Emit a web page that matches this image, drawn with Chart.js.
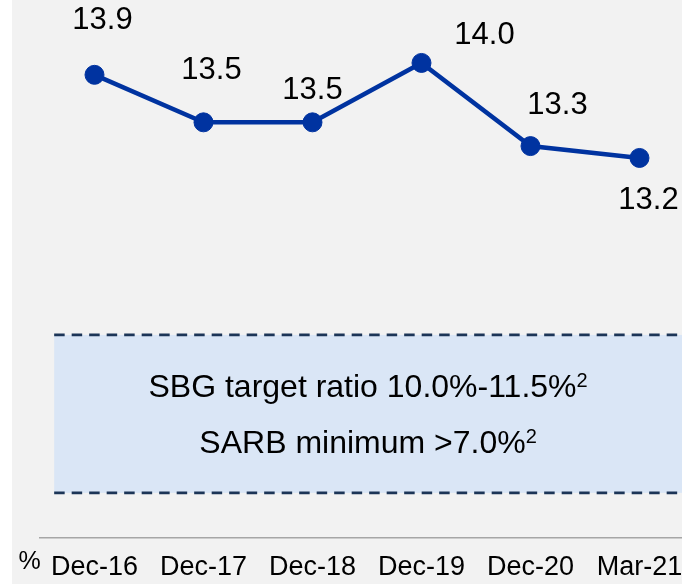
<!DOCTYPE html>
<html>
<head>
<meta charset="utf-8">
<script src="https://cdn.jsdelivr.net/npm/chart.js@4/dist/chart.umd.min.js"></script>
<style>
  html, body { margin: 0; padding: 0; background: #fff; }
  #wrap {
    position: relative; width: 682px; height: 584px;
    background: linear-gradient(to right, #fff 12px, #f2f2f2 12px);
  }
</style>
</head>
<body>
<div id="wrap"><canvas id="chart"></canvas></div>
<script>
// CET1 ratio (%) by period
const periods   = ['Dec-16', 'Dec-17', 'Dec-18', 'Dec-19', 'Dec-20', 'Mar-21'];
const cet1Ratio = [13.9, 13.5, 13.5, 14.0, 13.3, 13.2];

// target band, in y-scale units, and the text inside it
const bandRange = [10.38, 11.71];
const bandStart = -0.37;            // x-scale units
const bandLines = [
  ['SBG target ratio 10.0%-11.5%', '2'],
  ['SARB minimum >7.0%', '2'],
];
const unitLabel = '%';

// ── style ────────────────────────────────────────────────────
const FONT = "'Liberation Sans', Arial, sans-serif";
const COLORS = {
  line:   '#0033a0',
  text:   '#000000',
  band:   '#dae6f6',
  dash:   '#1c3557',
  axis:   '#a6a6a6',
};
// hand placed value labels (px from the point)
const labelDx = [8, 8, 0, 63, 27, 9];
const labelDy = [-54, -52, -32, -27, -41, 42];

const bandPlugin = {
  id: 'band',
  beforeDatasetsDraw(chart) {
    const { ctx, scales: { x, y } } = chart;
    const top = y.getPixelForValue(bandRange[1]);
    const bottom = y.getPixelForValue(bandRange[0]);
    const left = x.getPixelForValue(bandStart);
    const right = x.right;
    ctx.save();
    ctx.fillStyle = COLORS.band;
    ctx.fillRect(left, top, right - left, bottom - top);

    ctx.strokeStyle = COLORS.dash;
    ctx.lineWidth = 2.7;
    ctx.setLineDash([10.5, 7]);
    [top, bottom].forEach(py => {
      ctx.beginPath();
      ctx.moveTo(left, py);
      ctx.lineTo(right, py);
      ctx.stroke();
    });
    ctx.setLineDash([]);

    // text lines, centred in the band
    const cx = (left + right) / 2;
    const cy = (top + bottom) / 2;
    ctx.fillStyle = COLORS.text;
    ctx.textBaseline = 'alphabetic';
    ctx.textAlign = 'left';
    bandLines.forEach(([main, sup], i) => {
      const base = cy + (i - 0.5) * 56 + 0.358 * 32;
      ctx.font = `32px ${FONT}`;
      const wMain = ctx.measureText(main).width;
      ctx.font = `20px ${FONT}`;
      const wSup = ctx.measureText(sup).width;
      const x0 = cx - (wMain + wSup) / 2;
      ctx.font = `32px ${FONT}`;
      ctx.fillText(main, x0, base);
      ctx.font = `20px ${FONT}`;
      ctx.fillText(sup, x0 + wMain, base - 10);
    });
    ctx.restore();
  },
};

const labelPlugin = {
  id: 'valueLabels',
  afterDatasetsDraw(chart) {
    const { ctx } = chart;
    const meta = chart.getDatasetMeta(0);
    ctx.save();
    ctx.fillStyle = COLORS.text;
    ctx.font = `31px ${FONT}`;
    ctx.textAlign = 'center';
    ctx.textBaseline = 'middle';
    meta.data.forEach((pt, i) => {
      ctx.fillText(cet1Ratio[i].toFixed(1), pt.x + labelDx[i], pt.y + labelDy[i]);
    });
    // unit marker left of the axis labels
    const x = chart.scales.x;
    ctx.font = `25px ${FONT}`;
    ctx.fillText(unitLabel, x.left - 10.5, x.top + 24);
    ctx.restore();
  },
};

new Chart(document.getElementById('chart'), {
  type: 'line',
  data: {
    datasets: [{
      data: cet1Ratio.map((v, i) => ({ x: i, y: v })),
      borderColor: COLORS.line,
      backgroundColor: COLORS.line,
      borderWidth: 4.5,
      pointRadius: 9.5,
      pointHoverRadius: 9.5,
      pointBorderWidth: 1,
      tension: 0,
      clip: false,
    }],
  },
  options: {
    responsive: true,
    maintainAspectRatio: false,
    animation: false,
    layout: { autoPadding: false, padding: { left: 40, right: 0, top: 0, bottom: 0 } },
    plugins: {
      legend:  { display: false },
      tooltip: { enabled: false },
    },
    scales: {
      x: {
        type: 'linear',
        min: -0.5,
        max: 5.39,
        afterBuildTicks: s => { s.ticks = periods.map((_, i) => ({ value: i })); },
        afterFit: s => { s.paddingLeft = 0; s.paddingRight = 0; s.height = 46; },
        ticks: {
          callback: v => periods[v],
          font: { family: FONT, size: 27 },
          color: COLORS.text,
          padding: 5,
          maxRotation: 0,
          autoSkip: false,
        },
        grid: { display: false },
        border: { display: true, color: COLORS.axis, width: 1.5 },
      },
      y: { display: false, min: 10, max: 14.53 },
    },
  },
  plugins: [bandPlugin, labelPlugin],
});
</script>
</body>
</html>
